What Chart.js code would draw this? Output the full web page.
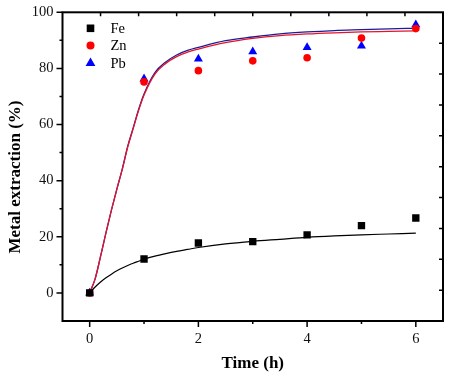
<!DOCTYPE html>
<html>
<head>
<meta charset="utf-8">
<title>Metal extraction vs time</title>
<script src="https://cdn.jsdelivr.net/npm/chart.js"></script>
<style>
    html, body { margin: 0; padding: 0; background: #fff; }
    #chart { display: block; }
</style>
</head>
<body>
<canvas id="chart" width="455" height="380"></canvas>
<script>
// measured points (time in h, extraction in %)
const times = [0, 1, 2, 3, 4, 5, 6];
const fe = [0, 12.1, 17.8, 18.3, 20.7, 24.0, 26.7];
const zn = [0, 75.2, 79.2, 82.7, 83.8, 90.8, 94.2];
const pb = [0, 76.3, 83.4, 86.0, 87.5, 88.0, 95.6];

// fitted curves
const fitTimes = [0, 0.1, 0.2, 0.3, 0.4, 0.5, 0.6, 0.7, 0.8, 0.9, 1.0, 1.2, 1.4, 1.6, 1.8, 2.0, 2.5, 3.0, 3.5, 4.0, 4.5, 5.0, 5.5, 6.0];
const feFit = [0, 2.1, 3.9, 5.4, 6.7, 7.9, 8.9, 9.8, 10.6, 11.3, 12.0, 13.1, 14.0, 14.8, 15.5, 16.2, 17.5, 18.4, 19.1, 19.8, 20.3, 20.7, 21.0, 21.3];
const znFit = [0, 5, 13, 21.5, 29.5, 37, 44, 52, 58.5, 65, 70.5, 78, 81.8, 84.2, 85.8, 86.9, 89.2, 90.7, 91.7, 92.3, 92.7, 93.0, 93.2, 93.4];
const pbFit = [0, 5, 13, 21.5, 29.5, 37, 44.2, 52.3, 58.8, 65.4, 70.9, 78.5, 82.3, 84.8, 86.4, 87.5, 89.9, 91.2, 92.3, 93.0, 93.5, 93.8, 94.1, 94.3];

// axis ticks
const xTickValues = [0, 1, 2, 3, 4, 5, 6];
const xTicksLabelled = [0, 2, 4, 6];
const yTickValues = [0, 10, 20, 30, 40, 50, 60, 70, 80, 90, 100];
const yTicksLabelled = [0, 20, 40, 60, 80, 100];

const serif = '"Liberation Serif", "Times New Roman", serif';

function pts(xs, ys) {
    return xs.map((x, i) => ({ x: x, y: ys[i] }));
}

// box, tick marks, legend and y title
const frameTicks = {
    id: 'frameTicks',
    afterDraw(chart) {
        const ctx = chart.ctx;
        const a = chart.chartArea;
        const sx = chart.scales.x, sy = chart.scales.y;
        ctx.save();
        ctx.strokeStyle = '#000';
        ctx.lineWidth = 1.5;
        ctx.beginPath();
        sx.ticks.forEach(t => {
            const px = sx.getPixelForValue(t.value);
            const len = t.value % 2 === 0 ? 6 : 3;
            ctx.moveTo(px, a.bottom);
            ctx.lineTo(px, a.bottom + len);
        });
        sy.ticks.forEach(t => {
            const py = sy.getPixelForValue(t.value);
            const len = t.value % 20 === 0 ? 6 : 3;
            ctx.moveTo(a.left, py);
            ctx.lineTo(a.left - len, py);
        });
        // top and right axes: plain inward ticks, ten divisions
        for (let k = 1; k < 10; k++) {
            const px = a.left + k * (a.right - a.left) / 10;
            ctx.moveTo(px, a.top);
            ctx.lineTo(px, a.top + 4);
            const py = a.top + k * (a.bottom - a.top) / 10;
            ctx.moveTo(a.right, py);
            ctx.lineTo(a.right - 4, py);
        }
        ctx.stroke();
        ctx.lineWidth = 2;
        ctx.strokeRect(a.left, a.top, a.right - a.left, a.bottom - a.top);

        // legend (top left, inside the box)
        ctx.font = '14.5px ' + serif;
        ctx.textBaseline = 'middle';
        ctx.textAlign = 'left';
        [0, 1, 2].forEach((i, k) => {
            const ds = chart.data.datasets[i];
            const cx = a.left + 28, cy = a.top + 16 + k * 17.3;
            ctx.fillStyle = ds.backgroundColor;
            ctx.beginPath();
            if (ds.pointStyle === 'rect') {
                ctx.rect(cx - 3.8, cy - 3.8, 7.6, 7.6);
            } else if (ds.pointStyle === 'circle') {
                ctx.arc(cx, cy, 4, 0, Math.PI * 2);
            } else {
                ctx.moveTo(cx, cy - 5.5);
                ctx.lineTo(cx + 4.9, cy + 3.2);
                ctx.lineTo(cx - 4.9, cy + 3.2);
                ctx.closePath();
            }
            ctx.fill();
            ctx.fillStyle = '#000';
            ctx.fillText(ds.label, a.left + 48, cy + 1);
        });

        // y axis title
        ctx.font = 'bold 17px ' + serif;
        ctx.textAlign = 'center';
        ctx.translate(16, 177);
        ctx.rotate(-Math.PI / 2);
        ctx.fillText('Metal extraction (%)', 0, 0);
        ctx.restore();
    }
};

const ctx = document.getElementById('chart').getContext('2d');
new Chart(ctx, {
    type: 'scatter',
    data: {
        datasets: [
            { label: 'Fe', data: pts(times, fe), pointStyle: 'rect', pointRadius: 5.2, backgroundColor: '#000000', pointBorderWidth: 0, showLine: false },
            { label: 'Zn', data: pts(times, zn), pointStyle: 'circle', pointRadius: 3.8, backgroundColor: '#ff0000', pointBorderWidth: 0, showLine: false },
            { label: 'Pb', data: pts(times, pb), pointStyle: 'triangle', pointRadius: 5.2, backgroundColor: '#0000ff', pointBorderWidth: 0, showLine: false },
            { label: 'Fe fit', data: pts(fitTimes, feFit), showLine: true, pointRadius: 0, borderColor: '#000000', borderWidth: 1.2, cubicInterpolationMode: 'monotone' },
            { label: 'Zn fit', data: pts(fitTimes, znFit), showLine: true, pointRadius: 0, borderColor: '#e3142c', borderWidth: 1.3, cubicInterpolationMode: 'monotone' },
            { label: 'Pb fit', data: pts(fitTimes, pbFit), showLine: true, pointRadius: 0, borderColor: '#1c1c96', borderWidth: 1.3, cubicInterpolationMode: 'monotone' }
        ]
    },
    options: {
        responsive: false,
        animation: false,
        devicePixelRatio: 1,
        layout: { padding: { left: 0, top: 12.3, right: 12, bottom: 0 } },
        plugins: {
            legend: { display: false },
            tooltip: { enabled: false }
        },
        scales: {
            x: {
                type: 'linear', position: 'bottom', min: -0.5, max: 6.5,
                grid: { display: false, drawTicks: false },
                border: { display: false },
                afterBuildTicks: s => { s.ticks = xTickValues.map(v => ({ value: v })); },
                ticks: {
                    autoSkip: false, maxRotation: 0, padding: 9, color: '#111',
                    font: { family: serif, size: 14.5 },
                    callback: v => xTicksLabelled.includes(v) ? v : ''
                },
                title: { display: true, text: 'Time (h)', color: '#000', font: { family: serif, size: 17, weight: 'bold' }, padding: { top: 0, bottom: 6 } },
                afterFit: s => { s.height = 59; s.paddingLeft = 0; s.paddingRight = 0; }
            },
            y: {
                type: 'linear', position: 'left', min: -10, max: 100,
                grid: { display: false, drawTicks: false },
                border: { display: false },
                afterBuildTicks: s => { s.ticks = yTickValues.map(v => ({ value: v })); },
                ticks: {
                    autoSkip: false, padding: 9, color: '#111',
                    font: { family: serif, size: 14.5 },
                    callback: v => yTicksLabelled.includes(v) ? v : ''
                },
                afterFit: s => { s.width = 62.5; s.paddingTop = 0; s.paddingBottom = 0; }
            }
        }
    },
    plugins: [frameTicks]
});
</script>
</body>
</html>
